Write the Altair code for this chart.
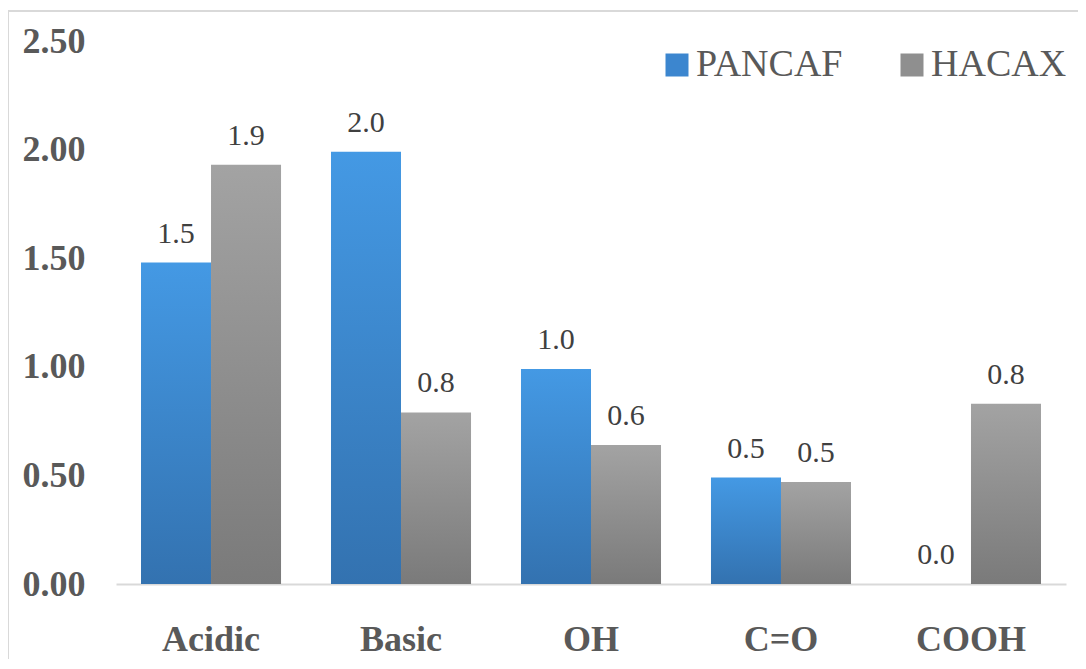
import altair as alt
import pandas as pd

categories = ["Acidic", "Basic", "OH", "C=O", "COOH"]
series_names = ["PANCAF", "HACAX"]
pancaf = [1.48, 1.99, 0.99, 0.49, 0.0]
hacax = [1.93, 0.79, 0.64, 0.47, 0.83]

rows = []
for c, a, b in zip(categories, pancaf, hacax):
    rows.append({"category": c, "series": "PANCAF", "value": a})
    rows.append({"category": c, "series": "HACAX", "value": b})
df = pd.DataFrame(rows)

FONT = "Liberation Serif"

grad_blue = {"gradient": "linear", "x1": 0, "x2": 0, "y1": 0, "y2": 1,
             "stops": [{"offset": 0, "color": "#4499e4"}, {"offset": 1, "color": "#3372b0"}]}
grad_gray = {"gradient": "linear", "x1": 0, "x2": 0, "y1": 0, "y2": 1,
             "stops": [{"offset": 0, "color": "#a3a3a3"}, {"offset": 1, "color": "#7a7a7a"}]}

x_enc = alt.X("category:N", sort=categories,
              scale=alt.Scale(paddingInner=0.263, paddingOuter=0.1316),
              axis=alt.Axis(title=None, labelAngle=0, labelFont=FONT, labelFontSize=36,
                            labelFontWeight="bold", labelColor="#595959", ticks=False,
                            tickSize=0, labelPadding=38, domainColor="#d9d9d9",
                            domainWidth=2, grid=False))
xo_enc = alt.XOffset("series:N", sort=series_names,
                     scale=alt.Scale(domain=series_names, paddingInner=0, paddingOuter=0))
y_enc = alt.Y("value:Q", scale=alt.Scale(domain=[0, 2.5]),
              axis=alt.Axis(title=None, values=[0, 0.5, 1.0, 1.5, 2.0, 2.5], format=".2f",
                            labelFont=FONT, labelFontSize=36, labelFontWeight="bold",
                            labelColor="#595959", ticks=False, tickSize=0, domain=False,
                            grid=False, labelPadding=31))

base = alt.Chart(df)

bars = base.mark_bar().encode(
    x=x_enc, xOffset=xo_enc, y=y_enc,
    fill=alt.condition("datum.series === 'PANCAF'", alt.value(grad_blue), alt.value(grad_gray)),
)

legend_layer = base.mark_square(opacity=0).encode(
    x=x_enc, xOffset=xo_enc, y=y_enc,
    color=alt.Color("series:N", sort=series_names,
                    scale=alt.Scale(domain=series_names, range=["#3c86cf", "#8f8f8f"]),
                    legend=alt.Legend(title=None, orient="none", direction="horizontal",
                                      legendX=542, legendY=5, symbolType="square",
                                      symbolSize=529, symbolOpacity=1, symbolStrokeWidth=0,
                                      labelFont=FONT, labelFontSize=38, labelColor="#595959",
                                      labelOffset=0, columnPadding=50, labelLimit=400,
                                      padding=0)),
)

labels = base.mark_text(font=FONT, fontSize=30, color="#404040", baseline="alphabetic",
                        dy=-20).encode(
    x=x_enc, xOffset=xo_enc, y=y_enc,
    text=alt.Text("value:Q", format=".1f"),
)

border = alt.Chart(alt.Data(values=[{}])).mark_rect(
    filled=False, stroke="#d9d9d9", strokeWidth=2
).encode(x=alt.value(-108), x2=alt.value(1100), y=alt.value(-30), y2=alt.value(720))

chart = alt.layer(border, bars, legend_layer, labels).properties(
    width=950, height=543,
    autosize=alt.AutoSizeParams(type="none"),
    padding={"left": 108, "top": 33, "right": 12, "bottom": 75},
    background="white",
).configure_view(stroke=None)

chart.save("out.html", embed_options={"renderer": "svg", "actions": False})
